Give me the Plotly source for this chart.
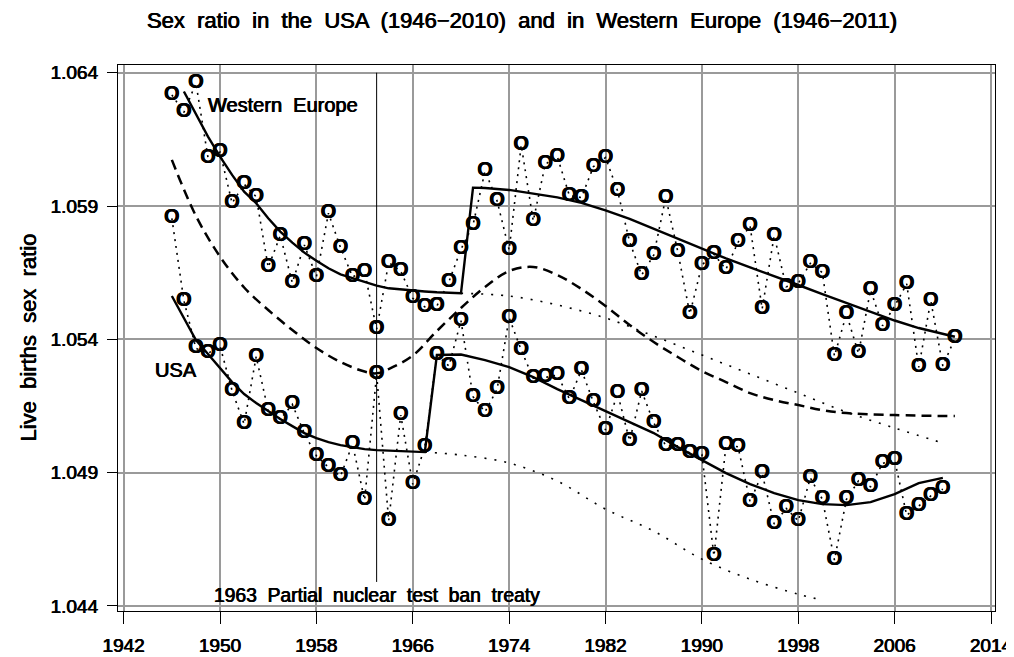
import plotly.graph_objects as go

# ---------------- data ----------------
we_years = list(range(1946, 2012))
we_ratio = [1.06317, 1.06251, 1.06361, 1.06082, 1.06102, 1.05911, 1.05982, 1.05935, 1.05670, 1.05789,
            1.05612, 1.05754, 1.05635, 1.05873, 1.05744, 1.05635, 1.05652, 1.05438, 1.05688, 1.05656,
            1.05554, 1.05522, 1.05525, 1.05616, 1.05738, 1.05829, 1.06032, 1.05919, 1.05735, 1.06129,
            1.05844, 1.06057, 1.06085, 1.05939, 1.05932, 1.06048, 1.06082, 1.05957, 1.05766, 1.05641,
            1.05716, 1.05932, 1.05729, 1.05495, 1.05679, 1.05719, 1.05663, 1.05764, 1.05825, 1.05514,
            1.05789, 1.05597, 1.05610, 1.05685, 1.05650, 1.05337, 1.05495, 1.05347, 1.05585, 1.05451,
            1.05525, 1.05608, 1.05295, 1.05545, 1.05300, 1.05404]

usa_years = list(range(1946, 2011))
usa_ratio = [1.05854, 1.05545, 1.05366, 1.05347, 1.05375, 1.05207, 1.05082, 1.05335, 1.05132, 1.05100,
             1.05156, 1.05047, 1.04963, 1.04920, 1.04887, 1.05007, 1.04797, 1.05270, 1.04719, 1.05116,
             1.04856, 1.04997, 1.05341, 1.05300, 1.05470, 1.05185, 1.05128, 1.05213, 1.05481, 1.05360,
             1.05254, 1.05257, 1.05266, 1.05176, 1.05285, 1.05164, 1.05060, 1.05197, 1.05019, 1.05206,
             1.05087, 1.05001, 1.05001, 1.04974, 1.04968, 1.04587, 1.05003, 1.04997, 1.04790, 1.04897,
             1.04707, 1.04766, 1.04719, 1.04880, 1.04800, 1.04572, 1.04800, 1.04869, 1.04847, 1.04935,
             1.04947, 1.04740, 1.04775, 1.04813, 1.04838]

# fitted trend, Western Europe (with step after 1970)
we_fit_years = [1947, 1948, 1949, 1950, 1951, 1952, 1953, 1954, 1955, 1956, 1957, 1958, 1959, 1960,
                1961, 1962, 1963, 1964, 1965, 1966, 1967, 1968, 1969, 1970, 1971, 1972, 1974, 1976,
                1978, 1980, 1982, 1984, 1986, 1988, 1990, 1992, 1994, 1996, 1998, 2000, 2002, 2004,
                2006, 2008, 2010, 2011]
we_fit = [1.063294, 1.062420, 1.061605, 1.060854, 1.060167, 1.059541, 1.059105, 1.058542, 1.058039,
          1.057626, 1.057251, 1.056950, 1.056665, 1.056440, 1.056290, 1.056140, 1.056012, 1.055914,
          1.055869, 1.055832, 1.055794, 1.055764, 1.055738, 1.055727, 1.059691, 1.059679, 1.059604,
          1.059473, 1.059323, 1.059116, 1.058835, 1.058516, 1.058141, 1.057766, 1.057390, 1.057033,
          1.056695, 1.056376, 1.056038, 1.055700, 1.055363, 1.055025, 1.054706, 1.054424, 1.054199,
          1.054098]

# fitted trend, USA (with step after 1967)
usa_fit_years = [1946, 1947, 1948, 1949, 1950, 1951, 1952, 1953, 1954, 1955, 1956, 1957, 1958, 1959,
                 1960, 1961, 1962, 1963, 1964, 1965, 1966, 1967, 1968, 1970, 1972, 1974, 1976, 1978,
                 1980, 1982, 1984, 1986, 1988, 1990, 1992, 1994, 1996, 1998, 2000, 2002, 2004, 2006,
                 2008, 2010]
usa_fit = [1.055625, 1.054800, 1.053974, 1.053448, 1.052923, 1.052397, 1.051947, 1.051609, 1.051309,
           1.051009, 1.050746, 1.050483, 1.050296, 1.050146, 1.050033, 1.049958, 1.049882, 1.049845,
           1.049826, 1.049807, 1.049789, 1.049770, 1.053411, 1.053429, 1.053223, 1.052960, 1.052585,
           1.052135, 1.051722, 1.051309, 1.050896, 1.050484, 1.049958, 1.049470, 1.048982, 1.048569,
           1.048231, 1.047968, 1.047818, 1.047781, 1.047893, 1.048193, 1.048607, 1.048805]

# dashed curve
dash_years = [1946, 1948, 1950, 1952, 1954, 1956, 1958, 1960, 1962, 1963, 1964, 1966, 1968, 1970,
              1972, 1974, 1976, 1978, 1980, 1982, 1984, 1986, 1988, 1990, 1992, 1994, 1996, 1998,
              2000, 2002, 2006, 2011]
dash_vals = [1.060731, 1.058628, 1.057101, 1.055944, 1.055100, 1.054349, 1.053673, 1.053148, 1.052791,
             1.052724, 1.052885, 1.053392, 1.054312, 1.055175, 1.055963, 1.056564, 1.056714, 1.056414,
             1.055888, 1.055251, 1.054538, 1.053900, 1.053336, 1.052811, 1.052398, 1.051985, 1.051721,
             1.051534, 1.051346, 1.051233, 1.051158, 1.051121]

# dotted extrapolations of the pre-treaty trends
we_extra_years = [1970, 1974, 1978, 1982, 1986, 1990, 1994, 1998, 2002, 2006, 2010]
we_extra = [1.055727, 1.055625, 1.055288, 1.054800, 1.054124, 1.053412, 1.052699, 1.051984,
            1.051273, 1.050672, 1.050110]
usa_extra_years = [1967, 1970, 1974, 1978, 1982, 1986, 1990, 1994, 1998, 2000]
usa_extra = [1.049770, 1.049659, 1.049359, 1.048683, 1.047632, 1.046806, 1.045755, 1.045004,
             1.044441, 1.044216]

x_ticks = [1942, 1950, 1958, 1966, 1974, 1982, 1990, 1998, 2006, 2014]
y_ticks = [1.044, 1.049, 1.054, 1.059, 1.064]
y_ticktext = ["1.044", "1.049", "1.054", "1.059", "1.064"]

treaty_year = 1963
treaty_span = [1.064, 1.0449]

FONT = "Liberation Sans, Arial, sans-serif"
THICK = "0.4px 0 0 #000, -0.4px 0 0 #000"

fig = go.Figure()

# dotted extrapolations and dashed curve
fig.add_trace(go.Scatter(x=we_extra_years, y=we_extra, mode="lines", line_shape="spline",
                         line=dict(color="black", width=1.6, dash="2px,8px"), hoverinfo="skip"))
fig.add_trace(go.Scatter(x=usa_extra_years, y=usa_extra, mode="lines", line_shape="spline",
                         line=dict(color="black", width=1.6, dash="2px,8px"), hoverinfo="skip"))
fig.add_trace(go.Scatter(x=dash_years, y=dash_vals, mode="lines", line_shape="spline",
                         line=dict(color="black", width=2.5, dash="10px,6px"), hoverinfo="skip"))

# fitted lines
fig.add_trace(go.Scatter(x=we_fit_years, y=we_fit, mode="lines",
                         line=dict(color="black", width=2.4), hoverinfo="skip"))
fig.add_trace(go.Scatter(x=usa_fit_years, y=usa_fit, mode="lines",
                         line=dict(color="black", width=2.4), hoverinfo="skip"))

# observed data: dotted connecting lines with "O" symbols
for xs, ys, nm in [(we_years, we_ratio, "Western Europe"), (usa_years, usa_ratio, "USA")]:
    fig.add_trace(go.Scatter(x=xs, y=ys, mode="lines+text", name=nm,
                             line=dict(color="black", width=1.6, dash="2px,5px"),
                             text=["O"] * len(xs), textposition="middle center",
                             textfont=dict(family=FONT, size=20, color="black", weight="bold",
                                           shadow="0.3px 0 0 #000, -0.3px 0 0 #000")))

# treaty line
fig.add_shape(type="line", x0=treaty_year, x1=treaty_year, y0=treaty_span[0], y1=treaty_span[1],
              xref="x", yref="y", line=dict(color="black", width=1))

ann_font = dict(family=FONT, size=19.3, color="black", shadow=THICK)
fig.add_annotation(x=treaty_year, y=1.04438, xref="x", yref="y",
                   text="1963  Partial  nuclear  test  ban  treaty",
                   showarrow=False, xanchor="center", yanchor="middle", font=ann_font)
fig.add_annotation(x=1948.85, y=1.06280, xref="x", yref="y", text="Western  Europe",
                   showarrow=False, xanchor="left", yanchor="middle",
                   font=dict(family=FONT, size=20, color="black", shadow=THICK))
fig.add_annotation(x=1944.41, y=1.05285, xref="x", yref="y", text="USA",
                   showarrow=False, xanchor="left", yanchor="middle",
                   font=dict(family=FONT, size=20, color="black", shadow=THICK))

# titles
fig.add_annotation(x=0.4601, y=1.082, xref="paper", yref="paper",
                   text="Sex  ratio  in  the  USA  (1946\u22122010)  and  in  Western  Europe  (1946\u22122011)",
                   showarrow=False, xanchor="center", yanchor="middle",
                   font=dict(family=FONT, size=22, color="black", shadow=THICK))
fig.add_annotation(x=-0.1026, y=0.501, xref="paper", yref="paper", text="Live  births  sex  ratio",
                   textangle=-90, showarrow=False, xanchor="center", yanchor="middle",
                   font=dict(family=FONT, size=22, color="black", shadow=THICK))

# the page adds an 8px body margin, so the figure is 8px smaller and its
# margins shifted to keep the plot area where the reference has it
fig.update_layout(
    width=1006, height=649,
    margin=dict(l=110, r=19, t=57, b=46, autoexpand=False),
    plot_bgcolor="white", paper_bgcolor="white",
    showlegend=False,
    font=dict(family=FONT, color="black"),
)
tick_font = dict(family=FONT, size=19, color="black", shadow=THICK)
fig.update_xaxes(range=[1941.53, 2014.33], tickvals=x_ticks, ticks="outside", ticklen=12,
                 tickwidth=1, tickcolor="black", showgrid=True, gridcolor="#9a9a9a", gridwidth=1.5,
                 showline=True, linecolor="black", linewidth=1.2, mirror=True, zeroline=False,
                 tickfont=tick_font, ticklabelstandoff=5, automargin=False)
fig.update_yaxes(range=[1.04381, 1.06429], tickvals=y_ticks, ticktext=y_ticktext, ticks="outside",
                 ticklen=10, tickwidth=1, tickcolor="black", showgrid=True, gridcolor="#9a9a9a",
                 gridwidth=1.5, showline=True, linecolor="black", linewidth=1.2, mirror=True,
                 zeroline=False, tickfont=tick_font, ticklabelstandoff=5, automargin=False)

fig.write_html("out.html")
